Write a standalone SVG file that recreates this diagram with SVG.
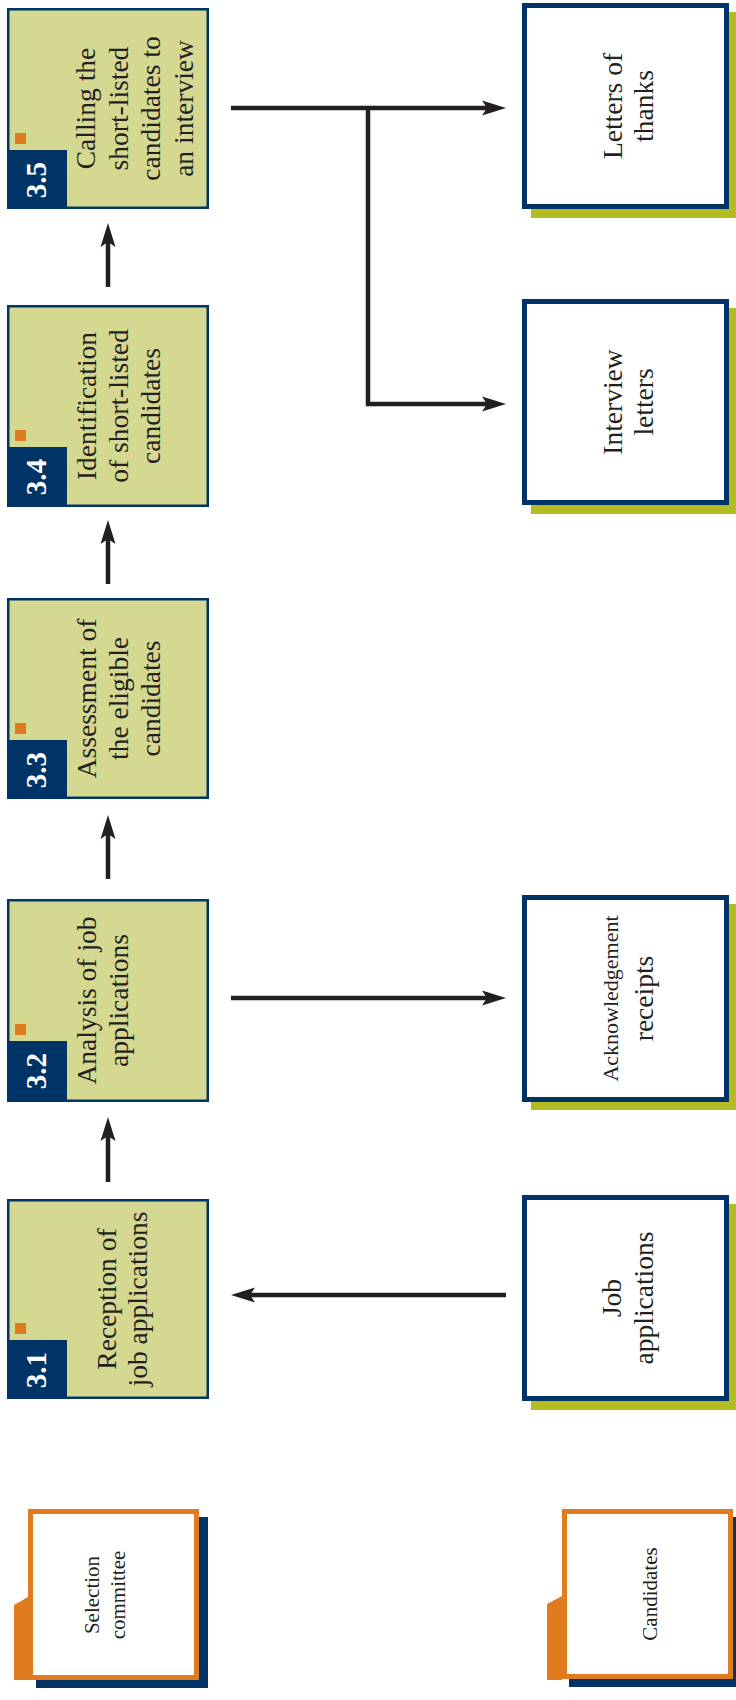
<svg xmlns="http://www.w3.org/2000/svg" width="736" height="1700" viewBox="0 0 736 1700">
<style>
.proc{fill:#d5d891;stroke:#003466;stroke-width:2.5}
.lab{fill:#003466}
.dot{fill:#e07b20}
.num{font-family:"Liberation Serif",serif;font-weight:bold;font-size:29px;fill:#ffffff;text-anchor:middle}
.t{font-family:"Liberation Serif",serif;font-size:27.5px;fill:#231f20;text-anchor:middle}
.ts{font-family:"Liberation Serif",serif;font-size:21px;fill:#231f20;text-anchor:middle}
.doc{fill:#ffffff;stroke:#003466;stroke-width:5}
.docsh{fill:#b3bd1f}
.ent{fill:#ffffff;stroke:#e07b20;stroke-width:5}
.entsh{fill:#003466}
.tab{fill:#e07b20}
.arr{fill:none;stroke:#231f20;stroke-width:4.5;stroke-linejoin:miter}
</style>
<defs>
<marker id="ah" viewBox="0 0 24 16" refX="14" refY="8" markerWidth="24" markerHeight="16" markerUnits="userSpaceOnUse" orient="auto">
<path d="M0,0.5 L24,8 L0,15.5 L5,8 Z" fill="#231f20"/>
</marker>
</defs>

<g id="connectors">
<line class="arr" x1="108" y1="287" x2="108" y2="233" marker-end="url(#ah)"/>
<line class="arr" x1="108" y1="584" x2="108" y2="530" marker-end="url(#ah)"/>
<line class="arr" x1="108" y1="879" x2="108" y2="825" marker-end="url(#ah)"/>
<line class="arr" x1="108" y1="1182" x2="108" y2="1127" marker-end="url(#ah)"/>
<line class="arr" x1="231" y1="108" x2="496" y2="108" marker-end="url(#ah)"/>
<path class="arr" d="M368,108 V404 H496" marker-end="url(#ah)"/>
<line class="arr" x1="231" y1="998" x2="496" y2="998" marker-end="url(#ah)"/>
<line class="arr" x1="506" y1="1295" x2="241" y2="1295" marker-end="url(#ah)"/>
</g>

<g id="p35">
<rect class="proc" x="8.25" y="9.25" width="199.5" height="198.5"/>
<rect class="lab" x="7" y="150" width="60" height="59"/>
<rect class="dot" x="15" y="133" width="11" height="11"/>
<text class="num" transform="rotate(-90)" x="-180" y="46">3.5</text>
<text class="t" transform="rotate(-90)" x="-108.5"><tspan y="95">Calling the</tspan><tspan x="-108.5" y="128">short-listed</tspan><tspan x="-108.5" y="160">candidates to</tspan><tspan x="-108.5" y="193">an interview</tspan></text>
</g>

<g id="p34">
<rect class="proc" x="8.25" y="306.25" width="199.5" height="199.5"/>
<rect class="lab" x="7" y="447" width="60" height="60"/>
<rect class="dot" x="15" y="430" width="11" height="11"/>
<text class="num" transform="rotate(-90)" x="-477" y="46">3.4</text>
<text class="t" transform="rotate(-90)" x="-406"><tspan y="96">Identification</tspan><tspan x="-406" y="128">of short-listed</tspan><tspan x="-406" y="160">candidates</tspan></text>
</g>

<g id="p33">
<rect class="proc" x="8.25" y="599.25" width="199.5" height="198.5"/>
<rect class="lab" x="7" y="740" width="60" height="59"/>
<rect class="dot" x="15" y="723" width="11" height="11"/>
<text class="num" transform="rotate(-90)" x="-770" y="46">3.3</text>
<text class="t" transform="rotate(-90)" x="-698.5"><tspan y="96">Assessment of</tspan><tspan x="-698.5" y="128">the eligible</tspan><tspan x="-698.5" y="160">candidates</tspan></text>
</g>

<g id="p32">
<rect class="proc" x="8.25" y="900.25" width="199.5" height="200.5"/>
<rect class="lab" x="7" y="1041" width="60" height="61"/>
<rect class="dot" x="15" y="1024" width="11" height="11"/>
<text class="num" transform="rotate(-90)" x="-1071" y="46">3.2</text>
<text class="t" transform="rotate(-90)" x="-1000.5"><tspan y="96">Analysis of job</tspan><tspan x="-1000.5" y="128">applications</tspan></text>
</g>

<g id="p31">
<rect class="proc" x="8.25" y="1200.25" width="199.5" height="197.5"/>
<rect class="lab" x="7" y="1340" width="60" height="59"/>
<rect class="dot" x="15" y="1323" width="11" height="11"/>
<text class="num" transform="rotate(-90)" x="-1370" y="46">3.1</text>
<text class="t" transform="rotate(-90)" x="-1299"><tspan y="116">Reception of</tspan><tspan x="-1299" y="147">job applications</tspan></text>
</g>

<g id="d_thanks">
<rect class="docsh" x="531" y="12" width="207" height="206"/>
<rect class="doc" x="524.5" y="5.5" width="202" height="201"/>
<text class="t" transform="rotate(-90)" x="-106"><tspan y="622">Letters of</tspan><tspan x="-106" y="653">thanks</tspan></text>
</g>

<g id="d_interview">
<rect class="docsh" x="531" y="308" width="207" height="206"/>
<rect class="doc" x="524.5" y="301.5" width="202" height="201"/>
<text class="t" transform="rotate(-90)" x="-402"><tspan y="622">Interview</tspan><tspan x="-402" y="653">letters</tspan></text>
</g>

<g id="d_ack">
<rect class="docsh" x="531" y="904" width="207" height="206"/>
<rect class="doc" x="524.5" y="897.5" width="202" height="202"/>
<text class="ts" transform="rotate(-90)" x="-998.5" y="618" style="font-size:22px">Acknowledgement</text>
<text class="t" transform="rotate(-90)" x="-998.5" y="653">receipts</text>
</g>

<g id="d_job">
<rect class="docsh" x="531" y="1204" width="207" height="206"/>
<rect class="doc" x="524.5" y="1197.5" width="202" height="201"/>
<text class="t" transform="rotate(-90)" x="-1298"><tspan y="621">Job</tspan><tspan x="-1298" y="653">applications</tspan></text>
</g>

<g id="e_committee">
<rect class="entsh" x="36" y="1517" width="172" height="171"/>
<polygon class="tab" points="14,1605 28,1597 28,1680 14,1680"/>
<rect class="ent" x="30.5" y="1511.5" width="166" height="166"/>
<text class="ts" transform="rotate(-90)" x="-1595"><tspan y="99">Selection</tspan><tspan x="-1595" y="125">committee</tspan></text>
</g>

<g id="e_candidates">
<rect class="entsh" x="569" y="1517" width="172" height="170"/>
<polygon class="tab" points="547,1604 562,1596 562,1680 547,1680"/>
<rect class="ent" x="564.5" y="1511.5" width="166" height="165"/>
<text class="ts" transform="rotate(-90)" x="-1594" y="657">Candidates</text>
</g>
</svg>
